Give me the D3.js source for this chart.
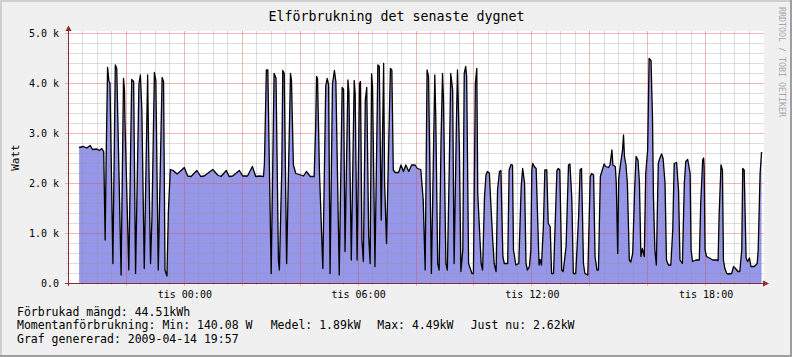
<!DOCTYPE html>
<html><head><meta charset="utf-8">
<script src="https://cdn.jsdelivr.net/npm/d3@7"></script>
<style>
body{margin:0;background:#f0f0f0}
svg{display:block}
text{font-family:"DejaVu Sans Mono",monospace;fill:#000}
</style>
</head><body>
<svg id="c" width="792" height="357"></svg>
<script>
// ---- data: minutes after 2009-04-13 20:00, and power in W ----
const minutes = [
23,32,39,46,51,60,65,70,74,77,79,82,85,87,93,98,101,106,110,115,117,118,126,132,136,140,147,150,153,158,165,167,171,174,179,182,187,195,198,201,205,208,212,218,226,232,241,
248,255,267,275,282,300,310,317,328,334,341,355,362,372,382,389,396,405,407,411,414,417,421,427,431,436,438,443,445,448,453,461,463,467,472,479,
488,494,502,510,513,515,517,521,528,534,537,540,543,548,552,555,562,568,571,574,580,582,587,593,595,599,604,606,609,612,616,619,623,626,629,631,636,642,645,649,654,656,660,668,671,674,678,685,690,695,700,706,712,
719,724,731,736,740,744,747,753,757,760,762,766,769,773,776,778,783,786,790,793,797,800,805,807,811,814,818,821,824,826,830,837,840,844,847,849,856,859,863,866,869,873,876,880,883,887,890,894,897,901,904,911,914,918,921,923,928,934,939,942,946,949,952,
956,959,961,963,966,970,973,976,978,981,985,988,992,995,999,1002,1006,1009,1013,1016,1019,1023,1026,1032,1037,1040,1044,1047,1052,1058,1061,1064,1068,1071,1077,1082,1085,1089,1092,1096,1099,1103,1106,1111,1114,1120,1123,1127,1129,1134,1136,1139,1141,1145,1149,1151,1153,1156,1159,1163,1166,1170,1174,1177,1181,1184,1187,
1190,1194,1197,1201,1204,1208,1211,1213,1216,1219,1223,1226,1230,1233,1237,1240,1244,1249,1253,1256,1261,1265,1268,1273,1277,1280,1284,1289,1291,1294,1301,1308,1311,1315,1317,1318,1320,1323,1329,1336,1343,1347,1349,1353,1356,1358,1361,1365,1370,1375,1379,1383,1388,1392,1396,1398,1401,1405,1408,1412,1415,1422,1428,1430,1434,1437
];
const watts = [
2710,2730,2700,2750,2670,2680,2650,2690,2630,860,2460,4310,4030,4000,390,4360,4290,2030,160,4090,3860,3260,260,4070,4030,190,3990,4160,3460,290,4160,2730,390,1330,4210,4060,260,4110,4030,260,140,1430,2270,2250,2180,2230,2310,
2140,2130,2250,2130,2140,2270,2160,2130,2250,2130,2140,2250,2140,2140,2330,2130,2140,2130,2390,4260,4260,2500,190,4190,4100,460,260,2300,4250,4190,390,4190,4060,2360,2190,2170,
2140,2230,2130,2130,3060,4130,4090,2230,290,3940,4090,3960,190,3990,4250,4030,160,3910,3870,630,4060,3830,460,4050,3790,460,3990,4030,860,430,3660,3910,930,390,4180,3930,330,4360,4330,1260,4390,2000,790,4290,4260,2260,2210,2210,2360,2230,2360,2230,2360,
2360,2290,2270,1660,260,4260,4130,190,2460,4160,3330,390,260,2890,4190,3660,390,260,2330,4190,3860,390,3330,4260,2660,230,660,4190,4330,4130,390,190,190,3990,4290,1790,390,260,1730,2160,2230,2200,1600,860,390,230,1860,2230,2250,530,390,390,2260,2370,2360,660,360,390,1930,2290,2000,390,260,
330,660,2260,2390,2330,2290,1330,360,470,360,1130,2260,2260,1190,1130,190,190,1060,2250,2290,2260,260,230,730,2360,2380,1660,190,190,1330,2260,2290,390,190,160,2130,2190,2160,530,260,260,2130,2230,2380,2330,2310,2360,2660,2360,2330,2000,590,2090,2390,2660,2960,2530,2360,2000,460,420,590,1860,2530,2460,2000,530,
690,530,2190,2660,4490,4450,3330,1730,660,360,2390,2490,2580,2490,2000,460,360,360,1060,2390,2410,1860,460,390,2000,2430,2470,2190,660,430,460,460,1600,2460,2500,2330,660,530,500,460,460,450,1330,2360,2260,460,290,190,180,190,330,290,230,230,660,2290,2260,500,430,500,330,330,390,660,2190,2620
];
const yTickValues = [0,1000,2000,3000,4000,5000];
const yTickLabels = ["0.0","1.0 k","2.0 k","3.0 k","4.0 k","5.0 k"];
const xTickHours = [0,6,12,18];
const xTickLabels = ["tis 00:00","tis 06:00","tis 12:00","tis 18:00"];
const titleText = "Elförbrukning det senaste dygnet";
const yAxisTitle = "Watt";
const watermark = "RRDTOOL / TOBI OETIKER";
const legendLine1 = ["Förbrukad mängd: 44.51kWh"];
const legendLine2 = ["Momentanförbrukning: Min: 140.08 W","Medel: 1.89kW","Max: 4.49kW","Just nu: 2.62kW"];
const legendLine3 = ["Graf genererad: 2009-04-14 19:57"];

// ---- chart ----
const svg = d3.select("#c");
const W = 792, H = 357;
const L = 68, R = 763, T = 33, B = 283, gridRight = 764;
const start = new Date(2009,3,13,20,0), end = new Date(2009,3,14,20,0);
const x = d3.scaleTime().domain([start,end]).range([L,R]);
const y = d3.scaleLinear().domain([0,5000]).range([B,T]);
const px = v => Math.round(v)+0.5;

const data = minutes.map((m,i)=>({t:new Date(start.getTime()+m*60000), v:watts[i]}));

// background and frame
svg.append("rect").attr("width",W).attr("height",H).attr("fill","#f0f0f0");
svg.append("rect").attr("x",0).attr("y",0).attr("width",W).attr("height",2).attr("fill","#cfcfcf");
svg.append("rect").attr("x",0).attr("y",0).attr("width",2).attr("height",H).attr("fill","#cfcfcf");
svg.append("rect").attr("x",W-2).attr("y",0).attr("width",2).attr("height",H).attr("fill","#9e9e9e");
svg.append("rect").attr("x",0).attr("y",H-2).attr("width",W).attr("height",2).attr("fill","#9e9e9e");

// canvas
svg.append("rect").attr("x",L).attr("y",31).attr("width",gridRight-L).attr("height",B-31).attr("fill","#fff");

// area
const area = d3.area().x(d=>x(d.t)).y0(y(0)).y1(d=>y(d.v));
svg.append("path").datum(data).attr("d",area).attr("fill","#9797ea");

// grid
const g = svg.append("g");
const minorT = d3.timeMinute.every(30).range(start,end).filter(d=>d.getMinutes()!==0 || d.getHours()%2!==0);
const majorT = d3.timeHour.every(2).range(new Date(start.getTime()+1),end);
const minorV = d3.range(200,5001,200).filter(v=>v%1000!==0);
const majorV = d3.range(1000,5001,1000);
const minorCol = "rgba(143,143,143,0.3)", majorCol = "rgba(222,80,80,0.42)";
g.selectAll(".mvx").data(minorT).join("line").attr("x1",d=>px(x(d))).attr("x2",d=>px(x(d))).attr("y1",31).attr("y2",B+2).attr("stroke",minorCol);
g.selectAll(".mvy").data(minorV).join("line").attr("y1",d=>px(y(d))).attr("y2",d=>px(y(d))).attr("x1",L-2).attr("x2",gridRight).attr("stroke",minorCol);
g.selectAll(".Mvx").data(majorT).join("line").attr("x1",d=>px(x(d))).attr("x2",d=>px(x(d))).attr("y1",31).attr("y2",B+3).attr("stroke",majorCol);
g.selectAll(".Mvy").data(majorV).join("line").attr("y1",d=>px(y(d))).attr("y2",d=>px(y(d))).attr("x1",L-3).attr("x2",gridRight).attr("stroke",majorCol);

// line
const line = d3.line().x(d=>x(d.t)).y(d=>y(d.v));
svg.append("path").datum(data).attr("d",line).attr("fill","none").attr("stroke","#000").attr("stroke-width",1.3).attr("stroke-linejoin","round");

// axes lines + arrows
const axCol = "#8a2e2e";
svg.append("line").attr("x1",L-3).attr("x2",R).attr("y1",px(B)).attr("y2",px(B)).attr("stroke",axCol);
svg.append("line").attr("x1",px(L)).attr("x2",px(L)).attr("y1",B+3).attr("y2",30).attr("stroke",axCol);
svg.append("path").attr("d",`M${R},${px(B)-3} L${R+6},${px(B)} L${R},${px(B)+3} Z`).attr("fill",axCol);
svg.append("path").attr("d",`M${px(L)-3},31 L${px(L)},25.5 L${px(L)+3},31 Z`).attr("fill",axCol);

// axis labels
const yAx = d3.axisLeft(y).tickValues(yTickValues).tickFormat((d,i)=>yTickLabels[i]).tickSize(0).tickPadding(9);
const ya = svg.append("g").attr("transform",`translate(${L},0.5)`).call(yAx);
ya.select(".domain").remove();
ya.selectAll("text").attr("font-family","DejaVu Sans Mono, monospace").attr("font-size",10).attr("fill","#000");

const xTickDates = xTickHours.map(h=>new Date(2009,3,14,h,0));
const xAx = d3.axisBottom(x).tickValues(xTickDates).tickFormat((d,i)=>xTickLabels[i]).tickSize(0).tickPadding(8);
const xa = svg.append("g").attr("transform",`translate(0.5,${B})`).call(xAx);
xa.select(".domain").remove();
xa.selectAll("text").attr("font-family","DejaVu Sans Mono, monospace").attr("font-size",10).attr("fill","#000");

// titles
svg.append("text").attr("x",396.5).attr("y",21).attr("text-anchor","middle").attr("font-size",13.3).text(titleText);
svg.append("text").attr("transform","translate(19,157.5) rotate(-90)").attr("text-anchor","middle").attr("font-size",11).text(yAxisTitle);
svg.append("text").attr("transform","translate(778.5,7) rotate(90)").attr("font-size",8.3).style("fill","#a8a8a8").text(watermark);

// legend
const fs = 11.5;
svg.append("text").attr("x",17).attr("y",315.5).attr("font-size",fs).text(legendLine1[0]);
const l2x = [17,270.7,377.3,470.7];
legendLine2.forEach((s,i)=>svg.append("text").attr("x",l2x[i]).attr("y",329).attr("font-size",fs).text(s));
svg.append("text").attr("x",17).attr("y",342.7).attr("font-size",fs).text(legendLine3[0]);
</script>
</body></html>
